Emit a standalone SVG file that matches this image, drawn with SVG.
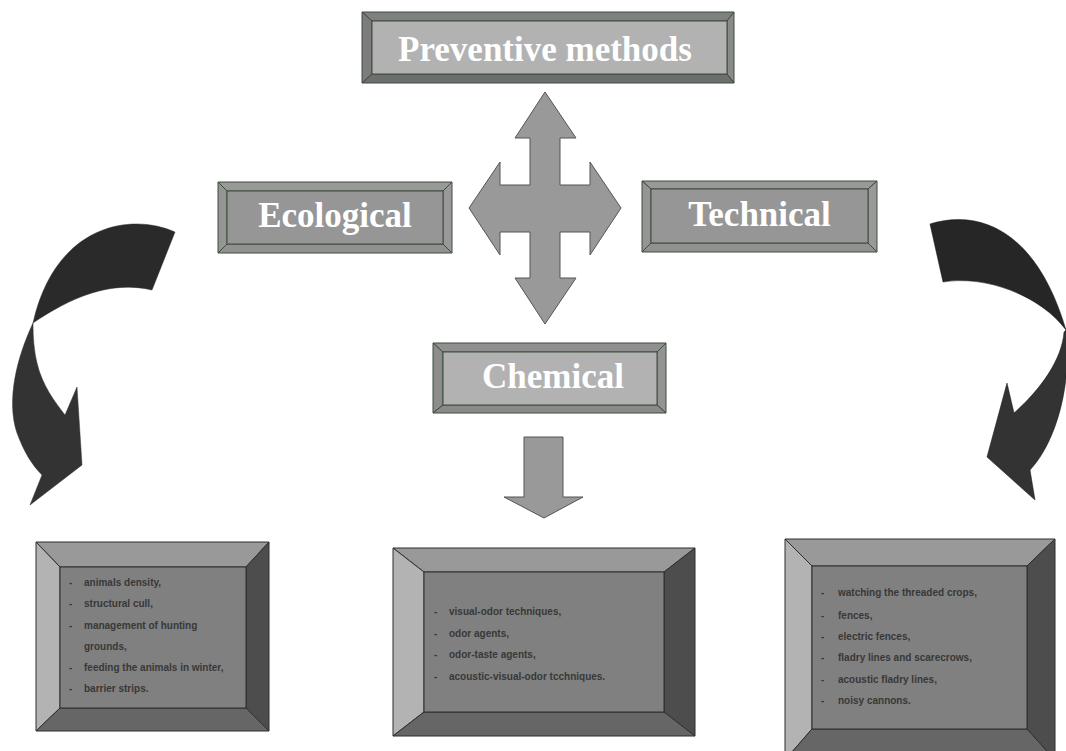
<svg xmlns="http://www.w3.org/2000/svg" width="1066" height="751" viewBox="0 0 1066 751">
<style>
.hdr{font-family:"Liberation Serif","Times New Roman",serif;font-weight:bold;font-size:35px;fill:#ffffff;text-anchor:middle}
.body{font-family:"Liberation Sans",Arial,sans-serif;font-weight:bold;font-size:10px;fill:#383838}
.ol{stroke:#3a4e3a;stroke-width:1;stroke-linejoin:miter}
.bl{stroke:#2e2e2e;stroke-width:1}
.arr{fill:#999999;stroke:#555555;stroke-width:1}
</style>
<rect width="1066" height="751" fill="#ffffff"/>

<g id="connectors">
  <polygon class="arr" points="545,92 576,138 560,138 560,185 590,185 590,162 621,208 590,255 590,232 560,232 560,278 576,278 545,324 515,278 530,278 530,232 500,232 500,255 469,208 500,162 500,185 530,185 530,138 515,138"/>
  <polygon class="arr" points="524,437 563,437 563,497 583,497 544,518 504,497 524,497"/>
  <g id="left-curved-arrow">
    <path d="M175,232 C130,212 55,225 33,323 C70,298 110,280 152,290 Z" fill="#2a2a2a" stroke="#2a2a2a" stroke-width="0.5"/>
    <path d="M33,323 C17,357 6,400 17,433 C24,452 32,465 42,475 L30,505 L82,465 L77,387 L65,415 C55,402 42,385 37,363 C34,350 33,338 33,323 Z" fill="#333333" stroke="#333333" stroke-width="0.5"/>
  </g>
  <g id="right-curved-arrow">
    <path d="M930,224 C975,210 1035,225 1066,330 C1040,295 985,275 943,282 Z" fill="#262626" stroke="#111" stroke-width="0.5"/>
    <path d="M1066,330 C1072,380 1058,440 1030,470 L1035,500 L987,457 L1007,383 L1014,413 C1040,390 1062,360 1064,332 Z" fill="#333333" stroke="#111" stroke-width="0.5"/>
  </g>
</g>

<g id="preventive-methods">
  <polygon class="ol" fill="#808080" points="362,12 734,12 727,21 372,21"/>
  <polygon class="ol" fill="#7c7c7c" points="362,12 372,21 372,74 362,83"/>
  <polygon class="ol" fill="#8a8a8a" points="734,12 734,83 727,74 727,21"/>
  <polygon class="ol" fill="#6e6e6e" points="362,83 372,74 727,74 734,83"/>
  <rect class="ol" fill="#b2b2b2" x="372" y="21" width="355" height="53"/>
  <text class="hdr" x="545" y="61">Preventive methods</text>
</g>

<g id="ecological">
  <polygon class="ol" fill="#999999" points="218,182 452,182 443,191 227,191"/>
  <polygon class="ol" fill="#959595" points="218,182 227,191 227,244 218,253"/>
  <polygon class="ol" fill="#999999" points="452,182 452,253 443,244 443,191"/>
  <polygon class="ol" fill="#919191" points="218,253 227,244 443,244 452,253"/>
  <rect class="ol" fill="#969696" x="227" y="191" width="216" height="53"/>
  <text class="hdr" x="335" y="227">Ecological</text>
</g>

<g id="technical">
  <polygon class="ol" fill="#999999" points="642,181 877,181 868,189 651,189"/>
  <polygon class="ol" fill="#959595" points="642,181 651,189 651,243 642,252"/>
  <polygon class="ol" fill="#999999" points="877,181 877,252 868,243 868,189"/>
  <polygon class="ol" fill="#919191" points="642,252 651,243 868,243 877,252"/>
  <rect class="ol" fill="#969696" x="651" y="189" width="217" height="54"/>
  <text class="hdr" x="759.5" y="226">Technical</text>
</g>

<g id="chemical">
  <polygon class="ol" fill="#909090" points="433,343 666,343 657,352 443,352"/>
  <polygon class="ol" fill="#8c8c8c" points="433,343 443,352 443,405 433,413"/>
  <polygon class="ol" fill="#939393" points="666,343 666,413 657,405 657,352"/>
  <polygon class="ol" fill="#8a8a8a" points="433,413 443,405 657,405 666,413"/>
  <rect class="ol" fill="#b2b2b2" x="443" y="352" width="214" height="53"/>
  <text class="hdr" x="553" y="388">Chemical</text>
</g>

<g id="ecological-list">
  <polygon class="bl" fill="#999999" points="36,542 269,542 246,567 60,567"/>
  <polygon class="bl" fill="#b3b3b3" points="36,542 60,567 60,708 36,731"/>
  <polygon class="bl" fill="#4d4d4d" points="269,542 269,731 246,708 246,567"/>
  <polygon class="bl" fill="#666666" points="36,731 60,708 246,708 269,731"/>
  <rect class="bl" fill="#808080" x="60" y="567" width="186" height="141"/>
  <g class="body">
    <text x="69" y="586">-</text><text x="84" y="586">animals density,</text>
    <text x="69" y="607">-</text><text x="84" y="607">structural cull,</text>
    <text x="69" y="629">-</text><text x="84" y="629">management of hunting</text>
    <text x="84" y="650">grounds,</text>
    <text x="69" y="671">-</text><text x="84" y="671">feeding the animals in winter,</text>
    <text x="69" y="692">-</text><text x="84" y="692">barrier strips.</text>
  </g>
</g>

<g id="chemical-list">
  <polygon class="bl" fill="#999999" points="393,548 695,548 664,572 424,572"/>
  <polygon class="bl" fill="#b3b3b3" points="393,548 424,572 424,712 393,736"/>
  <polygon class="bl" fill="#4d4d4d" points="695,548 695,736 664,712 664,572"/>
  <polygon class="bl" fill="#666666" points="393,736 424,712 664,712 695,736"/>
  <rect class="bl" fill="#808080" x="424" y="572" width="240" height="140"/>
  <g class="body">
    <text x="434" y="615">-</text><text x="449" y="615">visual-odor techniques,</text>
    <text x="434" y="637">-</text><text x="449" y="637">odor agents,</text>
    <text x="434" y="658">-</text><text x="449" y="658">odor-taste agents,</text>
    <text x="434" y="680">-</text><text x="449" y="680">acoustic-visual-odor tcchniques.</text>
  </g>
</g>

<g id="technical-list">
  <polygon class="bl" fill="#999999" points="785,539 1055,539 1027,566 812,566"/>
  <polygon class="bl" fill="#b3b3b3" points="785,539 812,566 812,729 785,760"/>
  <polygon class="bl" fill="#4d4d4d" points="1055,539 1055,760 1027,729 1027,566"/>
  <polygon class="bl" fill="#666666" points="785,760 812,729 1027,729 1055,760"/>
  <rect class="bl" fill="#808080" x="812" y="566" width="215" height="163"/>
  <g class="body">
    <text x="821" y="596">-</text><text x="838" y="596">watching the threaded crops,</text>
    <text x="821" y="619">-</text><text x="838" y="619">fences,</text>
    <text x="821" y="640">-</text><text x="838" y="640">electric fences,</text>
    <text x="821" y="661">-</text><text x="838" y="661">fladry lines and scarecrows,</text>
    <text x="821" y="683">-</text><text x="838" y="683">acoustic fladry lines,</text>
    <text x="821" y="704">-</text><text x="838" y="704">noisy cannons.</text>
  </g>
</g>
</svg>
